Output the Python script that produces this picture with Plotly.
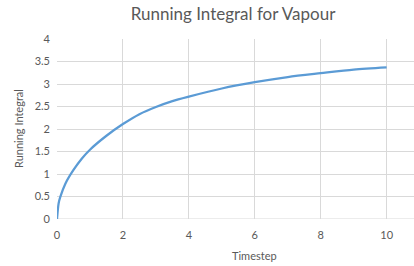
import plotly.graph_objects as go

timestep = [0, 0.05, 0.1, 0.25, 0.5, 0.75, 1, 1.5, 2, 2.5, 3, 3.5, 4, 5, 6, 7, 8, 9, 10]
running_integral = [0, 0.35, 0.49, 0.78, 1.09, 1.34, 1.54, 1.85, 2.11, 2.33, 2.49, 2.62, 2.72, 2.90, 3.04, 3.155, 3.24, 3.32, 3.37]

FONT = "Lato"
GREY = "#595959"

fig = go.Figure()
fig.add_trace(go.Scatter(x=timestep, y=running_integral, mode="lines",
                         line=dict(color="#5B9BD5", width=2.25, shape="spline", smoothing=0.8),
                         showlegend=False, hoverinfo="skip"))

fig.update_layout(
    width=414, height=266,
    margin=dict(l=57, r=0, t=39, b=47),
    paper_bgcolor="white", plot_bgcolor="white",
    font=dict(family=FONT, color=GREY, size=11),
    title=dict(text="Running Integral for Vapour", x=233/414, xanchor="center",
               y=1 - 14/266, yanchor="middle",
               font=dict(family=FONT, size=17, color=GREY)),
    xaxis=dict(range=[0, 10.83], tickvals=[0, 2, 4, 6, 8, 10], showgrid=True,
               gridcolor="#D9D9D9", gridwidth=1, zeroline=False,
               showline=False, ticks="", ticklabelstandoff=8,
               tickfont=dict(size=11, color=GREY)),
    yaxis=dict(range=[0, 4], dtick=0.5, showgrid=True, gridcolor="#D9D9D9",
               gridwidth=1, zeroline=False, showline=False, ticks="",
               ticklabelstandoff=6, tickfont=dict(size=11, color=GREY)),
    annotations=[
        dict(text="Timestep", xref="paper", yref="paper", x=(254 - 57) / 357, y=0,
             xanchor="center", yanchor="middle", yshift=-36, showarrow=False,
             font=dict(size=11, color=GREY, family=FONT)),
        dict(text="Running Integral", xref="paper", yref="paper", x=0, y=0.5,
             xanchor="center", yanchor="middle", xshift=-39, textangle=-90,
             showarrow=False, font=dict(size=11, color=GREY, family=FONT)),
    ],
)
fig.add_shape(type="line", xref="paper", yref="y", x0=0, x1=1, y0=0, y1=0,
              line=dict(color="#D9D9D9", width=1), layer="below")

fig.write_html("out.html")
